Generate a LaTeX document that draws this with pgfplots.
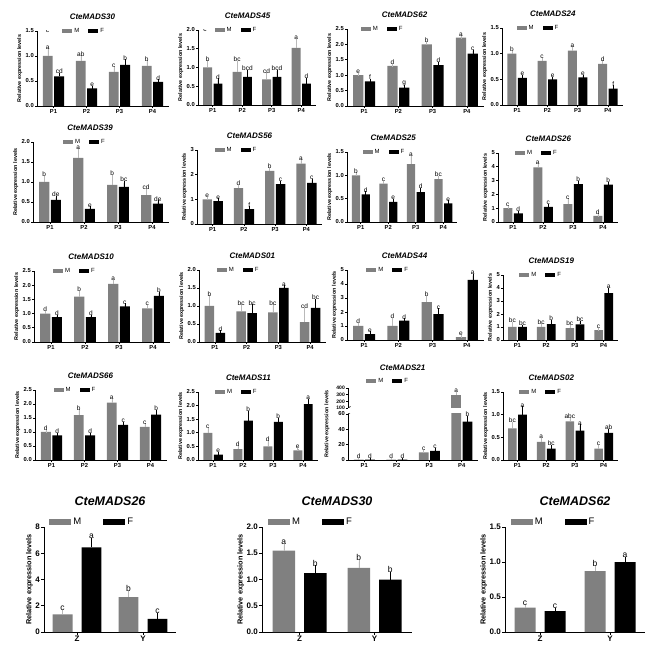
\documentclass[border=0pt]{standalone}
\usepackage{fontspec}
\setmainfont{Liberation Sans}
\usepackage{pgfplots}
\pgfplotsset{compat=1.18}
\definecolor{mg}{RGB}{128,128,128}

\pgfplotsset{
  mbar/.style={fill=mg, draw=none,
    error bars/.cd, y dir=plus, y explicit,
    error bar style={line width=0.5pt, mg!55},
    error mark options={mark size=1.6pt, line width=0.5pt, mg!55}},
  fbar/.style={fill=black, draw=none,
    error bars/.cd, y dir=plus, y explicit,
    error bar style={line width=0.5pt, black},
    error mark options={mark size=1.6pt, line width=0.5pt, black}},
  gp/.style={
    scale only axis, anchor=south west,
    ybar=1.5pt, bar width=0.3,
    xmin=0.5, xmax=4.5, ymin=0,
    xtick={1,2,3,4}, xticklabels={P1,P2,P3,P4},
    axis x line*=bottom, axis y line*=left,
    axis line style={line width=0.8pt, -},
    tick align=outside, major tick length=2pt,
    tick style={line width=0.6pt, black},
    ticklabel style={font=\fontsize{5.8}{6}\selectfont\bfseries, inner sep=1pt},
    /pgf/number format/assume math mode=true,
    yticklabel style={/pgf/number format/.cd, fixed, fixed zerofill, precision=1},
    ylabel={Relative expression levels},
    ylabel style={font=\fontsize{5.4}{5.5}\selectfont\bfseries, yshift=-1pt},
    title style={font=\fontsize{8}{8}\selectfont\bfseries\itshape,
      at={(0.42,1)}, anchor=south, yshift=2pt},
    legend style={draw=none, fill=none, legend columns=2,
      at={(0.14,1)}, anchor=west, inner sep=0pt,
      font=\fontsize{6}{6}\selectfont,
      /tikz/every even column/.append style={column sep=7pt}},
    legend image code/.code={\fill[#1,draw=none] (0pt,-1.7pt) rectangle (10pt,1.7pt);},
    nodes near coords, point meta=explicit symbolic,
    visualization depends on={\thisrow{e} \as \err},
    every node near coord/.append style={font=\fontsize{6.5}{6.5}\selectfont,
      inner sep=0.6pt, black, shift={(axis direction cs:0,\err)}},
  },
  gb/.style={gp,
    xmin=0.5, xmax=2.5, xtick={1,2}, xticklabels={Z,Y},
    bar width=0.3, ybar=9pt, major tick length=3pt,
    ticklabel style={font=\fontsize{8}{8}\selectfont\bfseries},
    ylabel style={font=\fontsize{7.3}{8}\selectfont\bfseries, yshift=-1pt},
    title style={font=\fontsize{12.5}{13}\selectfont\bfseries\itshape,
      at={(0.5,1)}, yshift=10pt},
    legend style={at={(0.04,1.05)}, font=\fontsize{9.5}{9.5}\selectfont,
      /tikz/every even column/.append style={column sep=20pt}},
    legend image code/.code={\fill[#1,draw=none] (0pt,-3pt) rectangle (22pt,3pt);},
    every node near coord/.append style={font=\fontsize{8.5}{8.5}\selectfont},
  },
}

\begin{document}
\begin{tikzpicture}
\path[use as bounding box] (0,0) rectangle (669pt,667pt);

% ---------------- row 1 ----------------
\begin{axis}[gp, at={(37pt,561pt)}, width=132pt, height=75pt,
  ymax=1.5, ytick={0,0.5,1,1.5}, title={CteMADS30}, legend style={at={(0.19,1)}}]
\addplot[mbar] table[x=x,y=y,y error=e,meta=l] {
x y e l
1 1.00 0.12 a
2 0.90 0.08 ab
3 0.68 0.07 c
4 0.80 0.08 b
};
\addplot[fbar] table[x=x,y=y,y error=e,meta=l] {
x y e l
1 0.59 0.04 cd
2 0.35 0.02 e
3 0.82 0.08 b
4 0.48 0.02 d
};
\legend{M,F}
\node[font=\fontsize{6.5}{6.5}\selectfont] at (rel axis cs:0.08,1) {c};
\end{axis}

\begin{axis}[gp, at={(198pt,562pt)}, width=118pt, height=75pt,
  ymax=2, ytick={0,0.5,1,1.5,2}, title={CteMADS45}]
\addplot[mbar] table[x=x,y=y,y error=e,meta=l] {
x y e l
1 1.00 0.15 b
2 0.88 0.25 bc
3 0.68 0.15 cd
4 1.52 0.20 a
};
\addplot[fbar] table[x=x,y=y,y error=e,meta=l] {
x y e l
1 0.57 0.10 d
2 0.75 0.15 bcd
3 0.75 0.15 bcd
4 0.57 0.12 d
};
\legend{M,F}
\node[font=\fontsize{6.5}{6.5}\selectfont] at (rel axis cs:0.06,1) {c};
\end{axis}

\begin{axis}[gp, at={(347pt,561pt)}, width=137pt, height=77pt,
  ymax=2.5, ytick={0,0.5,1,1.5,2,2.5}, title={CteMADS62}, legend style={at={(0.1,1)}}]
\addplot[mbar] table[x=x,y=y,y error=e,meta=l] {
x y e l
1 1.00 0.02 e
2 1.30 0.02 d
3 2.00 0.03 b
4 2.22 0.02 a
};
\addplot[fbar] table[x=x,y=y,y error=e,meta=l] {
x y e l
1 0.80 0.03 f
2 0.60 0.03 g
3 1.33 0.04 d
4 1.70 0.08 c
};
\legend{M,F}
\end{axis}

\begin{axis}[gp, at={(502pt,562pt)}, width=121pt, height=77pt,
  ymax=1.5, ytick={0,0.5,1,1.5}, title={CteMADS24}, legend style={at={(0.12,1)}}]
\addplot[mbar] table[x=x,y=y,y error=e,meta=l] {
x y e l
1 1.00 0.02 b
2 0.86 0.02 c
3 1.06 0.05 a
4 0.80 0.04 d
};
\addplot[fbar] table[x=x,y=y,y error=e,meta=l] {
x y e l
1 0.53 0.02 e
2 0.50 0.02 e
3 0.54 0.02 e
4 0.32 0.03 f
};
\legend{M,F}
\end{axis}

% ---------------- row 2 ----------------
\begin{axis}[gp, at={(33pt,445pt)}, width=136pt, height=80pt,
  ymax=2, ytick={0,0.5,1,1.5,2}, title={CteMADS39}, legend style={at={(0.22,1)}}]
\addplot[mbar] table[x=x,y=y,y error=e,meta=l] {
x y e l
1 1.00 0.12 b
2 1.60 0.20 a
3 0.93 0.20 b
4 0.67 0.12 cd
};
\addplot[fbar] table[x=x,y=y,y error=e,meta=l] {
x y e l
1 0.55 0.06 de
2 0.33 0.02 e
3 0.88 0.10 bc
4 0.46 0.04 de
};
\legend{M,F}
\end{axis}

\begin{axis}[gp, at={(197pt,443pt)}, width=125pt, height=74pt,
  ymax=3, ytick={0,1,2,3}, yticklabel style={/pgf/number format/precision=0},
  title={CteMADS56}]
\addplot[mbar] table[x=x,y=y,y error=e,meta=l] {
x y e l
1 1.00 0.04 e
2 1.45 0.06 d
3 2.15 0.05 b
4 2.45 0.10 a
};
\addplot[fbar] table[x=x,y=y,y error=e,meta=l] {
x y e l
1 0.93 0.04 e
2 0.60 0.05 f
3 1.62 0.05 c
4 1.67 0.10 c
};
\legend{M,F}
\end{axis}

\begin{axis}[gp, at={(347pt,445pt)}, width=110pt, height=70pt,
  ymax=1.5, ytick={0,0.5,1,1.5}, title={CteMADS25}]
\addplot[mbar] table[x=x,y=y,y error=e,meta=l] {
x y e l
1 1.00 0.03 b
2 0.82 0.02 c
3 1.24 0.15 a
4 0.92 0.03 bc
};
\addplot[fbar] table[x=x,y=y,y error=e,meta=l] {
x y e l
1 0.59 0.03 d
2 0.43 0.03 e
3 0.64 0.05 d
4 0.40 0.03 e
};
\legend{M,F}
\end{axis}

\begin{axis}[gp, at={(498pt,445pt)}, width=120pt, height=69pt,
  ymax=5, ytick={0,1,2,3,4,5}, yticklabel style={/pgf/number format/precision=0},
  title={CteMADS26}]
\addplot[mbar] table[x=x,y=y,y error=e,meta=l] {
x y e l
1 1.00 0.05 c
2 3.95 0.15 a
3 1.30 0.30 c
4 0.45 0.05 d
};
\addplot[fbar] table[x=x,y=y,y error=e,meta=l] {
x y e l
1 0.62 0.05 d
2 1.10 0.10 c
3 2.75 0.10 b
4 2.70 0.10 b
};
\legend{M,F}
\end{axis}

% ---------------- row 3 ----------------
\begin{axis}[gp, at={(34pt,325pt)}, width=136pt, height=71pt,
  ymax=2.5, ytick={0,0.5,1,1.5,2,2.5}, title={CteMADS10}]
\addplot[mbar] table[x=x,y=y,y error=e,meta=l] {
x y e l
1 1.00 0.03 d
2 1.60 0.15 b
3 2.05 0.08 a
4 1.18 0.07 c
};
\addplot[fbar] table[x=x,y=y,y error=e,meta=l] {
x y e l
1 0.88 0.03 d
2 0.88 0.03 d
3 1.25 0.05 c
4 1.62 0.10 b
};
\legend{M,F}
\end{axis}

\begin{axis}[gp, at={(199pt,325pt)}, width=127pt, height=72pt,
  ymax=2, ytick={0,0.5,1,1.5,2}, title={CteMADS01}]
\addplot[mbar] table[x=x,y=y,y error=e,meta=l] {
x y e l
1 1.00 0.25 b
2 0.85 0.15 bc
3 0.82 0.18 bc
4 0.55 0.35 cd
};
\addplot[fbar] table[x=x,y=y,y error=e,meta=l] {
x y e l
1 0.25 0.03 d
2 0.80 0.20 bc
3 1.50 0.03 a
4 0.95 0.20 bc
};
\legend{M,F}
\end{axis}

\begin{axis}[gp, at={(347pt,327pt)}, width=137pt, height=70pt,
  ymax=5, ytick={0,1,2,3,4,5}, yticklabel style={/pgf/number format/precision=0},
  title={CteMADS44}]
\addplot[mbar] table[x=x,y=y,y error=e,meta=l] {
x y e l
1 1.00 0.10 d
2 1.00 0.45 d
3 2.70 0.35 b
4 0.20 0.05 e
};
\addplot[fbar] table[x=x,y=y,y error=e,meta=l] {
x y e l
1 0.42 0.08 e
2 1.38 0.05 d
3 1.85 0.30 c
4 4.30 0.30 a
};
\legend{M,F}
\end{axis}

\begin{axis}[gp, at={(503pt,327pt)}, width=115pt, height=65pt,
  ymax=5, ytick={0,1,2,3,4,5}, yticklabel style={/pgf/number format/precision=0},
  title={CteMADS19}]
\addplot[mbar] table[x=x,y=y,y error=e,meta=l] {
x y e l
1 1.00 0.25 bc
2 1.00 0.15 bc
3 0.92 0.10 bc
4 0.75 0.05 c
};
\addplot[fbar] table[x=x,y=y,y error=e,meta=l] {
x y e l
1 1.00 0.05 bc
2 1.22 0.20 b
3 1.20 0.15 bc
4 3.60 0.30 a
};
\legend{M,F}
\end{axis}

% ---------------- row 4 ----------------
\begin{axis}[gp, at={(35pt,207pt)}, width=132pt, height=70pt,
  ymax=2.5, ytick={0,0.5,1,1.5,2,2.5}, title={CteMADS66}]
\addplot[mbar] table[x=x,y=y,y error=e,meta=l] {
x y e l
1 1.00 0.03 d
2 1.60 0.15 b
3 2.05 0.08 a
4 1.18 0.07 c
};
\addplot[fbar] table[x=x,y=y,y error=e,meta=l] {
x y e l
1 0.88 0.03 d
2 0.88 0.03 d
3 1.25 0.05 c
4 1.62 0.10 b
};
\legend{M,F}
\end{axis}

\begin{axis}[gp, at={(198pt,207pt)}, width=120pt, height=68pt,
  ymax=2.5, ytick={0,0.5,1,1.5,2,2.5}, title={CteMADS11}]
\addplot[mbar] table[x=x,y=y,y error=e,meta=l] {
x y e l
1 1.00 0.12 c
2 0.40 0.05 d
3 0.50 0.15 d
4 0.35 0.05 e
};
\addplot[fbar] table[x=x,y=y,y error=e,meta=l] {
x y e l
1 0.20 0.05 e
2 1.45 0.30 b
3 1.40 0.10 b
4 2.05 0.15 a
};
\legend{M,F}
\end{axis}

% CteMADS21, broken y axis: lower part
\begin{axis}[gp, at={(348pt,207pt)}, width=130pt, height=46pt,
  ymax=60, ytick={0,20,40,60}, yticklabel style={/pgf/number format/precision=0},
  ylabel={}]
\addplot[mbar] table[x=x,y=y,y error=e,meta=l] {
x y e l
1 0.6 0.2 d
2 0.5 0.2 d
3 10 1.5 c
4 300 20 {}
};
\addplot[fbar] table[x=x,y=y,y error=e,meta=l] {
x y e l
1 0.5 0.2 d
2 0.4 0.2 d
3 12 1.5 c
4 50 5 b
};
\draw[line width=0.6pt] (rel axis cs:0,1) ++(-2.5pt,-1.5pt) -- ++(5pt,3pt);
\end{axis}
% upper part
\begin{axis}[gp, at={(348pt,259pt)}, width=130pt, height=20pt,
  ymin=100, ymax=400, ytick={100,200,300,400}, yticklabel style={/pgf/number format/precision=0},
  ticklabel style={font=\fontsize{5}{5}\selectfont\bfseries},
  axis x line=none, ylabel={}, title={CteMADS21}, title style={yshift=6pt},
  legend style={at={(0.14,1.35)}}]
\addplot[mbar] table[x=x,y=y,y error=e,meta=l] {
x y e l
4 300 20 a
};
\addplot[fbar] table[x=x,y=y,y error=e,meta=l] {
x y e l
4 50 5 {}
};
\legend{M,F}
\draw[line width=0.6pt] (rel axis cs:0,0) ++(-2.5pt,-1.5pt) -- ++(5pt,3pt);
\end{axis}
\node[rotate=90, font=\fontsize{5.4}{5.5}\selectfont\bfseries] at (327pt,243pt) {Relative expression levels};

\begin{axis}[gp, at={(503pt,207pt)}, width=115pt, height=68pt,
  ymax=1.5, ytick={0,0.5,1,1.5}, title={CteMADS02}]
\addplot[mbar] table[x=x,y=y,y error=e,meta=l] {
x y e l
1 0.70 0.10 bc
2 0.40 0.05 a
3 0.85 0.05 abc
4 0.25 0.05 c
};
\addplot[fbar] table[x=x,y=y,y error=e,meta=l] {
x y e l
1 1.00 0.15 a
2 0.25 0.05 bc
3 0.65 0.10 a
4 0.60 0.05 ab
};
\legend{M,F}
\end{axis}

% ---------------- bottom row ----------------
\begin{axis}[gb, at={(44pt,35pt)}, width=132pt, height=105pt,
  ymax=8, ytick={0,2,4,6,8}, yticklabel style={/pgf/number format/precision=0},
  title={CteMADS26}]
\addplot[mbar] table[x=x,y=y,y error=e,meta=l] {
x y e l
1 1.35 0.20 c
2 2.65 0.35 b
};
\addplot[fbar] table[x=x,y=y,y error=e,meta=l] {
x y e l
1 6.45 0.60 a
2 1.00 0.35 c
};
\legend{M,F}
\end{axis}

\begin{axis}[gb, at={(262pt,35pt)}, width=150pt, height=105pt,
  ymax=2, ytick={0,0.5,1,1.5,2}, title={CteMADS30}]
\addplot[mbar] table[x=x,y=y,y error=e,meta=l] {
x y e l
1 1.55 0.10 a
2 1.22 0.12 b
};
\addplot[fbar] table[x=x,y=y,y error=e,meta=l] {
x y e l
1 1.12 0.12 b
2 1.00 0.12 b
};
\legend{M,F}
\end{axis}

\begin{axis}[gb, at={(505pt,35pt)}, width=140pt, height=105pt,
  ymax=1.5, ytick={0,0.5,1,1.5}, title={CteMADS62}]
\addplot[mbar] table[x=x,y=y,y error=e,meta=l] {
x y e l
1 0.35 0.02 c
2 0.87 0.06 b
};
\addplot[fbar] table[x=x,y=y,y error=e,meta=l] {
x y e l
1 0.30 0.02 c
2 1.00 0.05 a
};
\legend{M,F}
\end{axis}
\end{tikzpicture}
\end{document}
